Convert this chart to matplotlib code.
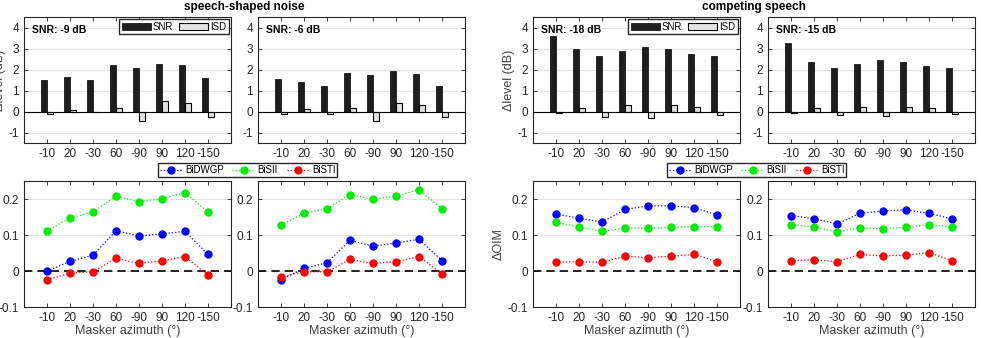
import numpy as np
import matplotlib
matplotlib.use("Agg")
import matplotlib.pyplot as plt
from matplotlib.patches import Patch
from matplotlib.lines import Line2D

plt.rcParams['font.family'] = ['Liberation Sans', 'DejaVu Sans']

# masker azimuths (tick labels)
azimuths = ["-10", "20", "-30", "60", "-90", "90", "120", "-150"]

# panel labels
snr_titles = ["SNR: -9 dB", "SNR: -6 dB", "SNR: -18 dB", "SNR: -15 dB"]
group_titles = ["speech-shaped noise", "competing speech"]

# level changes (dB): SNR and ISD per panel
snr_ssn9 = [1.50, 1.65, 1.48, 2.20, 2.05, 2.27, 2.22, 1.58]
isd_ssn9 = [-0.12, 0.07, -0.03, 0.17, -0.45, 0.48, 0.40, -0.27]
snr_ssn6 = [1.53, 1.42, 1.23, 1.82, 1.75, 1.92, 1.80, 1.20]
isd_ssn6 = [-0.13, 0.13, -0.10, 0.15, -0.45, 0.40, 0.33, -0.27]
snr_cs18 = [3.60, 3.00, 2.63, 2.87, 3.05, 2.98, 2.75, 2.65]
isd_cs18 = [-0.07, 0.18, -0.25, 0.30, -0.33, 0.30, 0.22, -0.15]
snr_cs15 = [3.27, 2.38, 2.07, 2.28, 2.45, 2.38, 2.17, 2.08]
isd_cs15 = [-0.05, 0.15, -0.17, 0.22, -0.20, 0.22, 0.17, -0.10]

# objective intelligibility changes per panel
bidwgp_ssn9 = [-0.001, 0.027, 0.044, 0.112, 0.097, 0.103, 0.110, 0.046]
bisii_ssn9 = [0.112, 0.147, 0.164, 0.208, 0.192, 0.201, 0.218, 0.164]
bisti_ssn9 = [-0.024, -0.006, -0.002, 0.035, 0.021, 0.029, 0.040, -0.011]

bidwgp_ssn6 = [-0.024, 0.007, 0.023, 0.085, 0.069, 0.078, 0.088, 0.029]
bisii_ssn6 = [0.128, 0.160, 0.173, 0.212, 0.199, 0.208, 0.226, 0.173]
bisti_ssn6 = [-0.017, -0.002, -0.002, 0.032, 0.021, 0.026, 0.040, -0.008]

bidwgp_cs18 = [0.158, 0.147, 0.136, 0.171, 0.181, 0.181, 0.176, 0.156]
bisii_cs18 = [0.135, 0.123, 0.110, 0.119, 0.119, 0.121, 0.123, 0.123]
bisti_cs18 = [0.024, 0.026, 0.024, 0.041, 0.037, 0.041, 0.046, 0.026]

bidwgp_cs15 = [0.154, 0.145, 0.131, 0.160, 0.167, 0.170, 0.160, 0.145]
bisii_cs15 = [0.129, 0.122, 0.109, 0.120, 0.117, 0.122, 0.129, 0.122]
bisti_cs15 = [0.029, 0.031, 0.026, 0.046, 0.042, 0.044, 0.051, 0.029]

bar_data = [(snr_ssn9, isd_ssn9), (snr_ssn6, isd_ssn6),
            (snr_cs18, isd_cs18), (snr_cs15, isd_cs15)]
line_data = [(bidwgp_ssn9, bisii_ssn9, bisti_ssn9),
             (bidwgp_ssn6, bisii_ssn6, bisti_ssn6),
             (bidwgp_cs18, bisii_cs18, bisti_cs18),
             (bidwgp_cs15, bisii_cs15, bisti_cs15)]
measure_names = ["BiDWGP", "BiSII", "BiSTI"]
measure_colors = ["#0000ff", "#00ee00", "#ff0000"]

W, H = 981, 338
fig = plt.figure(figsize=(W / 100, H / 100), dpi=100)

lefts = [24, 258, 533, 768]
ax_w = 207
top_y = (17, 143)
bot_y = (181, 307)

spine_col = "#262626"
x = np.arange(1, 9)


def style_axes(ax):
    for s in ax.spines.values():
        s.set_color(spine_col)
        s.set_linewidth(0.8)
    ax.tick_params(direction="in", top=True, right=True, length=3,
                   labelsize=8.5, colors=spine_col, width=0.6)
    ax.set_xlim(0, 9)
    ax.set_xticks(x)
    ax.set_xticklabels(azimuths)
    ax.set_axisbelow(True)
    ax.yaxis.grid(True, color="#e3e3e3", linewidth=0.8)


def make_ax(left, ys):
    return fig.add_axes([left / W, 1 - ys[1] / H, ax_w / W, (ys[1] - ys[0]) / H])


bw = 0.26
off = 0.145
for i in range(4):
    ax = make_ax(lefts[i], top_y)
    style_axes(ax)
    snr, isd = bar_data[i]
    ax.bar(x - off, snr, width=bw, color="#1e1e1e", edgecolor="black", linewidth=0.5, zorder=2)
    ax.bar(x + off, isd, width=bw, color="#e2e2e2", edgecolor="black", linewidth=0.8, zorder=2)
    ax.axhline(0, color="black", linewidth=0.8, zorder=3)
    ax.set_ylim(-1.5, 4.5)
    ax.set_yticks([-1, 0, 1, 2, 3, 4])
    ax.set_yticklabels(["-1", "0", "1", "2", "3", "4"])
    ax.text(0.04, 0.94, snr_titles[i], transform=ax.transAxes, fontsize=7.5,
            fontweight="bold", va="top", ha="left")
    if i in (0, 2):
        ax.set_ylabel("\u0394level (dB)", fontsize=9, color="#404040", labelpad=2)
        handles = [Patch(facecolor="#1e1e1e", edgecolor="black", linewidth=0.5),
                   Patch(facecolor="#e2e2e2", edgecolor="black", linewidth=0.8)]
        ax.legend(handles, ["SNR", "ISD"], ncol=2, loc="upper right",
                  fontsize=7, frameon=True, fancybox=False, edgecolor="#262626",
                  handlelength=3.0, handleheight=0.8, handletextpad=0.2,
                  columnspacing=0.6, borderpad=0.25, borderaxespad=0.25,
                  framealpha=1)

for i in range(4):
    ax = make_ax(lefts[i], bot_y)
    style_axes(ax)
    for vals, name, col in zip(line_data[i], measure_names, measure_colors):
        ax.plot(x, vals, linestyle=":", color=col, marker="o", markersize=5,
                linewidth=0.9, label=name, zorder=3)
    ax.axhline(0, color="black", linestyle=(0, (5, 3)), linewidth=1.2, zorder=2)
    ax.set_ylim(-0.1, 0.25)
    ax.set_yticks([-0.1, 0, 0.1, 0.2])
    ax.set_yticklabels(["-0.1", "0", "0.1", "0.2"])
    ax.set_xlabel("Masker azimuth (\u00b0)", fontsize=9, color="#404040", labelpad=1)
    if i in (0, 2):
        ax.set_ylabel("\u0394OIM", fontsize=9, color="#404040", labelpad=2)

# legends above the bottom rows
handles = [Line2D([0], [0], linestyle=":", color=c, marker="o", markersize=5, linewidth=0.9)
           for c in measure_colors]
for cx in (247.5 / W, 756.5 / W):
    fig.legend(handles, measure_names, ncol=3, loc="center",
               bbox_to_anchor=(cx, 1 - 170 / H), fontsize=7, frameon=True,
               fancybox=False, edgecolor="#262626", handlelength=2.3,
               handletextpad=0.3, columnspacing=0.9, borderpad=0.2, framealpha=1)

# group titles
fig.text((24 + 465) / 2 / W, 1 - 7 / H, group_titles[0], ha="center", va="center",
         fontsize=8.5, fontweight="bold")
fig.text((533 + 975) / 2 / W, 1 - 7 / H, group_titles[1], ha="center", va="center",
         fontsize=8.5, fontweight="bold")

fig.savefig("out.png", dpi=100)
